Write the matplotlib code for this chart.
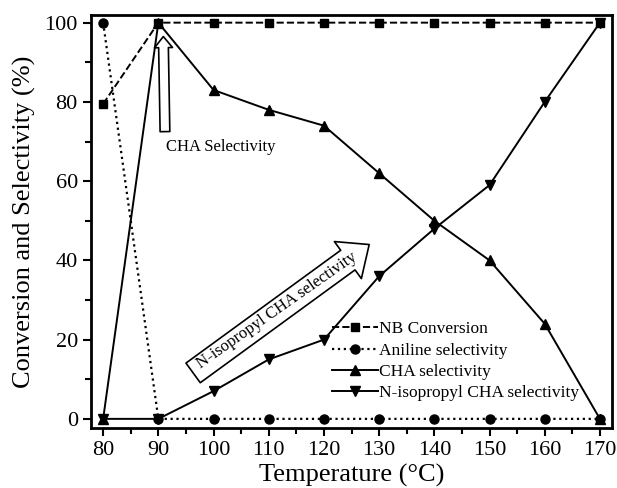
import matplotlib
matplotlib.use('Agg')
import numpy as np
from matplotlib import pyplot as plt
from matplotlib.ticker import MultipleLocator

temperature = [80, 90, 100, 110, 120, 130, 140, 150, 160, 170]
nb_conversion = [79.5, 100, 100, 100, 100, 100, 100, 100, 100, 100]
aniline_sel = [100, 0, 0, 0, 0, 0, 0, 0, 0, 0]
cha_sel = [0, 100, 83, 78, 74, 62, 50, 40, 24, 0]
nipcha_sel = [0, 0, 7, 15, 20, 36, 48, 59, 80, 100]

plt.rcParams['font.family'] = ['Liberation Serif', 'DejaVu Serif']

fig = plt.figure(figsize=(6.17, 4.88), dpi=100)
ax = fig.add_axes([0.1475, 0.123, 0.8445, 0.846])

ax.plot(temperature, nb_conversion, '--', color='k', lw=1.4, marker='s', markersize=6,
        label='NB Conversion')
ax.plot(temperature, aniline_sel, ':', color='k', lw=1.6, marker='o', markersize=6.5,
        label='Aniline selectivity')
ax.plot(temperature, cha_sel, '-', color='k', lw=1.4, marker='^', markersize=7,
        label='CHA selectivity')
ax.plot(temperature, nipcha_sel, '-', color='k', lw=1.4, marker='v', markersize=7,
        label='N-isopropyl CHA selectivity')

# hollow arrows
ax.annotate('', xy=(90.9, 96.5), xytext=(91.2, 72.5),
            arrowprops=dict(arrowstyle='simple,head_length=8,head_width=13,tail_width=7',
                            mutation_scale=1, fc='white', ec='k', lw=1.2,
                            shrinkA=0, shrinkB=0))
ax.text(91.3, 68.5, 'CHA Selectivity', fontsize=12, va='center', ha='left')

ax.annotate('', xy=(128.2, 44.0), xytext=(96.3, 11.6),
            arrowprops=dict(arrowstyle='simple,head_length=19,head_width=33,tail_width=17.5',
                            mutation_scale=1, fc='white', ec='k', lw=1.2,
                            shrinkA=0, shrinkB=0))
ax.text(111.4, 27.4, 'N-isopropyl CHA selectivity', fontsize=12, rotation=35,
        rotation_mode='anchor', ha='center', va='center')

ax.set_xlim(77.8, 172.2)
ax.set_ylim(-2.3, 101.9)
ax.xaxis.set_major_locator(MultipleLocator(10))
ax.xaxis.set_minor_locator(MultipleLocator(5))
ax.yaxis.set_major_locator(MultipleLocator(20))
ax.yaxis.set_minor_locator(MultipleLocator(10))
ax.tick_params(which='major', direction='out', length=6, width=1.5, labelsize=16)
ax.tick_params(which='minor', direction='out', length=4, width=1.5)
for sp in ax.spines.values():
    sp.set_linewidth(2)

ax.set_xlabel('Temperature (\u00b0C)', fontsize=19, labelpad=3)
ax.set_ylabel('Conversion and Selectivity (%)', fontsize=19, labelpad=6)

ax.legend(loc='upper left', bbox_to_anchor=(0.440, 0.288), frameon=False, fontsize=12.5,
          handlelength=2.6, handletextpad=0.1, labelspacing=0.3, numpoints=1,
          borderpad=0.2)

fig.savefig('out.png', dpi=100)
